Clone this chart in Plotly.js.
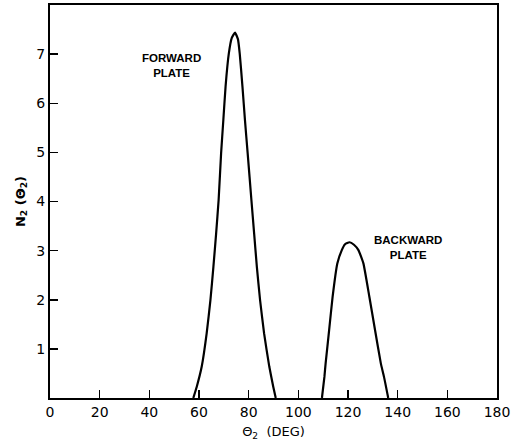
<!DOCTYPE html>
<html>
<head>
<meta charset="utf-8">
<script src="https://cdn.plot.ly/plotly-3.0.1.min.js"></script>
<style>html,body{margin:0;padding:0;background:#fff;}#chart{width:511px;height:444px;}</style>
</head>
<body>
<div id="chart"></div>
<script>
var forwardX = [57.7, 59.1, 61.1, 63.1, 64.6, 65.8, 66.9, 67.9, 68.9, 69.8, 70.7, 72.0, 73.2, 74.5, 75.7, 76.4, 77.5, 78.5, 79.6, 81.1, 82.2, 83.3, 84.6, 86.2, 88.3, 89.9, 90.9];
var forwardY = [0, 0.23, 0.64, 1.32, 1.99, 2.67, 3.35, 4.03, 4.98, 5.66, 6.34, 7.01, 7.33, 7.44, 7.3, 7.01, 6.34, 5.66, 4.98, 4.03, 3.35, 2.67, 1.99, 1.32, 0.64, 0.23, 0];
var backwardX = [109.5, 110.5, 111.0, 112.4, 113.8, 115.7, 117.5, 118.8, 120.6, 122.4, 124.2, 126.2, 128.6, 130.9, 133.2, 134.5, 136.2];
var backwardY = [0, 0.43, 0.71, 1.38, 2.06, 2.74, 3.01, 3.13, 3.17, 3.12, 3.01, 2.74, 2.06, 1.38, 0.71, 0.43, 0];
var xTicks = [0, 20, 40, 60, 80, 100, 120, 140, 160, 180];
var yTicks = [1, 2, 3, 4, 5, 6, 7];
var labels = [
  {text: "FORWARD<br>PLATE", x: 49, y: 6.76},
  {text: "BACKWARD<br>PLATE", x: 144, y: 3.06}
];

var lineStyle = {color: "#000", width: 2.2, shape: "spline", smoothing: 0.4};
var data = [
  {x: forwardX, y: forwardY, mode: "lines", line: lineStyle, hoverinfo: "none"},
  {x: backwardX, y: backwardY, mode: "lines", line: lineStyle, hoverinfo: "none"}
];
var layout = {
  width: 511, height: 444,
  margin: {l: 50, r: 14, t: 5, b: 46},
  paper_bgcolor: "#fff", plot_bgcolor: "#fff",
  showlegend: false,
  font: {family: "Liberation Sans, Arial, sans-serif", color: "#000"},
  xaxis: {
    range: [0, 180], tickvals: xTicks, ticktext: xTicks.map(String),
    ticks: "inside", ticklen: 8, tickwidth: 1.5, tickcolor: "#000",
    showline: true, mirror: true, linecolor: "#000", linewidth: 2,
    showgrid: false, zeroline: false,
    tickfont: {size: 14, family: "DejaVu Sans, sans-serif"},
    title: {text: "Θ<sub>2</sub>  (DEG)", font: {size: 13, family: "DejaVu Sans, sans-serif"}, standoff: 8}
  },
  yaxis: {
    range: [0, 8], tickvals: yTicks, ticktext: yTicks.map(String),
    ticks: "inside", ticklen: 8, tickwidth: 1.5, tickcolor: "#000",
    showline: true, mirror: true, linecolor: "#000", linewidth: 2,
    showgrid: false, zeroline: false,
    tickfont: {size: 14, family: "DejaVu Sans, sans-serif"},
    title: {text: "<b>N<sub>2</sub> (Θ<sub>2</sub>)</b>", font: {size: 13, family: "DejaVu Sans, sans-serif"}, standoff: 8}
  },
  annotations: labels.map(function (l) {
    return {x: l.x, y: l.y, xref: "x", yref: "y", text: "<b>" + l.text + "</b>", showarrow: false,
            font: {size: 11.5, family: "Liberation Sans, Arial, sans-serif", color: "#000"}, align: "center"};
  })
};
Plotly.newPlot("chart", data, layout, {staticPlot: true});
</script>
</body>
</html>
